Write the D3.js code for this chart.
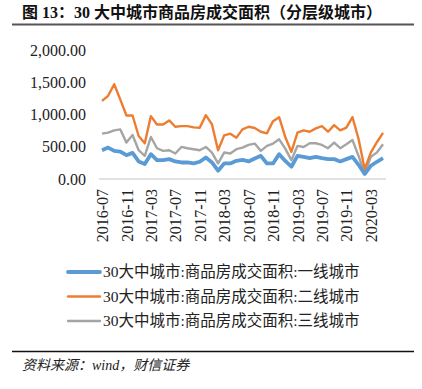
<!DOCTYPE html>
<html>
<head>
<meta charset="utf-8">
<script src="https://cdn.jsdelivr.net/npm/d3@7"></script>
<style>
  body { margin: 0; background: #fff; }
  svg { display: block; }
</style>
</head>
<body>
<svg id="chart"></svg>
<script>
// months 2016-07 .. 2020-05
var months = [];
(function() {
  var y = 2016, m = 7;
  for (var i = 0; i < 47; i++) {
    months.push(y + "-" + (m < 10 ? "0" + m : m));
    m++;
    if (m > 12) { m = 1; y++; }
  }
})();

var tier1 = [446, 487, 436, 426, 369, 405, 272, 231, 385, 292, 292, 308, 272, 256, 256, 241,
             267, 333, 256, 128, 241, 241, 282, 297, 272, 318, 359, 241, 241, 385, 280, 190,
             359, 343, 323, 343, 323, 308, 308, 272, 308, 343, 220, 77, 205, 267, 323];
var tier2 = [1210, 1290, 1470, 1230, 985, 985, 667, 554, 975, 846, 846, 908, 810, 820, 820, 800,
             795, 990, 846, 446, 677, 703, 641, 769, 810, 790, 733, 708, 897, 959, 650, 420,
             718, 754, 733, 785, 820, 733, 836, 754, 795, 959, 620, 154, 410, 570, 715];
var tier3 = [703, 718, 754, 769, 564, 682, 446, 359, 651, 477, 436, 446, 395, 497, 477, 462,
             446, 497, 410, 241, 410, 395, 462, 487, 528, 549, 436, 513, 549, 615, 470, 292,
             513, 497, 554, 554, 528, 477, 564, 477, 538, 605, 359, 88, 343, 410, 538];

var seriesNames = ["30大中城市:商品房成交面积:一线城市",
                   "30大中城市:商品房成交面积:二线城市",
                   "30大中城市:商品房成交面积:三线城市"];
var yTicks = [0, 500, 1000, 1500, 2000];
var xTickLabels = ["2016-07", "2016-11", "2017-03", "2017-07", "2017-11", "2018-03",
                   "2018-07", "2018-11", "2019-03", "2019-07", "2019-11", "2020-03"];

var width = 422,
  height = 389;

var svg = d3.select("#chart")
  .attr("width", width)
  .attr("height", height);

var serif = "'Liberation Serif', 'Noto Sans CJK SC', serif";

// title
svg.append("text")
  .attr("x", 22)
  .attr("y", 18)
  .attr("font-family", serif)
  .attr("font-weight", "bold")
  .attr("font-size", 16)
  .attr("fill", "#111")
  .text("图 13：30 大中城市商品房成交面积（分层级城市）");

svg.append("line")
  .attr("x1", 12).attr("x2", 414)
  .attr("y1", 24.5).attr("y2", 24.5)
  .attr("stroke", "#555")
  .attr("stroke-width", 2);

var x = d3.scalePoint()
  .domain(months)
  .range([102, 383]);

var y = d3.scaleLinear()
  .domain([0, 2000])
  .range([179, 50]);

// y axis labels
var yAxis = d3.axisLeft(y)
  .tickValues(yTicks)
  .tickSize(0)
  .tickPadding(0)
  .tickFormat(d3.format(",.2f"));

var gy = svg.append("g")
  .attr("transform", "translate(86,0)")
  .call(yAxis);
gy.select(".domain").remove();
gy.selectAll("text")
  .attr("font-family", serif)
  .attr("font-size", 16)
  .attr("fill", "#222");

// x axis
var xAxis = d3.axisBottom(x)
  .tickValues(xTickLabels)
  .tickSize(0)
  .tickPadding(0);

var gx = svg.append("g")
  .attr("transform", "translate(0,179)")
  .call(xAxis);
gx.select(".domain").remove();
gx.selectAll("text")
  .attr("font-family", serif)
  .attr("font-size", 16)
  .attr("fill", "#222")
  .attr("text-anchor", "end")
  .attr("transform", "rotate(-90)")
  .attr("x", -10)
  .attr("y", 0)
  .attr("dy", "0.35em");

svg.append("line")
  .attr("x1", 99).attr("x2", 386)
  .attr("y1", 179).attr("y2", 179)
  .attr("stroke", "#d9d9d9")
  .attr("stroke-width", 1.5);

var series = [
  { name: seriesNames[0], values: tier1, color: "#5B9BD5", w: 3.8 },
  { name: seriesNames[1], values: tier2, color: "#ED7D31", w: 2.4 },
  { name: seriesNames[2], values: tier3, color: "#A5A5A5", w: 2.4 }
];

var line = d3.line()
  .x(function(d, i) { return x(months[i]); })
  .y(function(d) { return y(d); });

// draw gray, orange, blue order
[2, 1, 0].forEach(function(k) {
  var s = series[k];
  svg.append("path")
    .attr("d", line(s.values))
    .attr("fill", "none")
    .attr("stroke", s.color)
    .attr("stroke-width", s.w)
    .attr("stroke-linejoin", "round");
});

// legend
var legend = svg.selectAll(".legend").data(series)
  .enter().append("g")
  .attr("class", "legend")
  .attr("transform", function(d, i) { return "translate(0," + (272 + i * 24.5) + ")"; });

legend.append("line")
  .attr("x1", 68).attr("x2", 100)
  .attr("y1", 0).attr("y2", 0)
  .attr("stroke", function(d) { return d.color; })
  .attr("stroke-width", function(d) { return d.w; })
  .attr("stroke-linecap", "round");

legend.append("text")
  .attr("x", 103)
  .attr("y", 0)
  .attr("dy", "0.35em")
  .attr("font-family", serif)
  .attr("font-size", 15.5)
  .attr("fill", "#222")
  .text(function(d) { return d.name; });

// source
svg.append("line")
  .attr("x1", 12).attr("x2", 414)
  .attr("y1", 351.5).attr("y2", 351.5)
  .attr("stroke", "#111")
  .attr("stroke-width", 1.5);

svg.append("text")
  .attr("x", 22)
  .attr("y", 370)
  .attr("font-family", serif)
  .attr("font-style", "italic")
  .attr("font-size", 14)
  .attr("fill", "#222")
  .text("资料来源：wind，财信证券");
</script>
</body>
</html>
